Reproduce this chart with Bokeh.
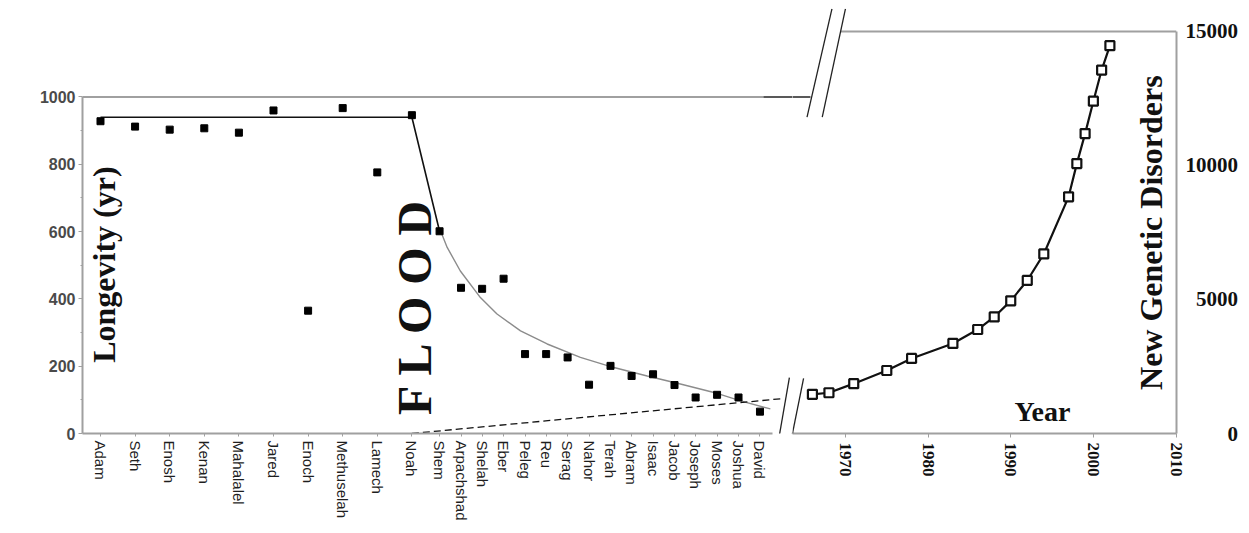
import math
from bokeh.plotting import figure
from bokeh.layouts import row
from bokeh.models import Range1d, FixedTicker, Label, Arrow
from bokeh.embed import file_html
from bokeh.resources import INLINE

# ---------------- data: longevity of patriarchs ----------------
names = ["Adam", "Seth", "Enosh", "Kenan", "Mahalalel", "Jared", "Enoch", "Methuselah",
         "Lamech", "Noah", "Shem", "Arpachshad", "Shelah", "Eber", "Peleg", "Reu", "Serag",
         "Nahor", "Terah", "Abram", "Isaac", "Jacob", "Joseph", "Moses", "Joshua", "David"]
name_pos = [1, 2, 3, 4, 5, 6, 7, 8, 9, 10,
            10.8, 11.42, 12.03, 12.65, 13.27, 13.88, 14.5, 15.12, 15.74, 16.35,
            16.97, 17.59, 18.2, 18.82, 19.44, 20.06]
longevity = [928, 912, 903, 907, 894, 960, 365, 967, 776, 946,
             601, 433, 430, 460, 236, 236, 226, 145, 201, 171,
             176, 144, 107, 115, 107, 65]

# trend lines of the longevity panel
flat_x = [1, 10, 10.8]
flat_y = [940, 940, 601]
decay_x = [10.83, 11.02, 11.40, 11.98, 12.46, 13.14, 13.91, 14.87, 15.84, 16.80,
           17.76, 18.73, 19.50, 20.36]
decay_y = [602, 553, 483, 404, 355, 305, 266, 226, 196, 171, 147, 122, 97, 73]

# ---------------- data: new genetic disorders ----------------
years = [1966, 1968, 1971, 1975, 1978, 1983, 1986, 1988, 1990, 1992, 1994,
         1997, 1998, 1999, 2000, 2001, 2002]
disorders = [1460, 1520, 1860, 2350, 2800, 3360, 3880, 4350, 4950, 5710, 6700,
             8830, 10070, 11190, 12400, 13560, 14470]

left_ticks = [0, 200, 400, 600, 800, 1000]
left_minor = [100, 300, 500, 700, 900]
year_ticks = [1970, 1980, 1990, 2000, 2010]
right_ticks = [0, 5000, 10000, 15000]
right_labels = ["0", "5000", "10000", "15000"]

SERIF = "Liberation Serif"
SANS = "Liberation Sans"
GREY = "#a0a0a0"
INK = "#111111"
FIG_SPACE = "\u2007"   # digit-wide space, used to right-align the right-axis labels

# ---------------- layout geometry ----------------
H = 530
TOP, BOTTOM = 8, 97
LEFT_W, RIGHT_W = 792, 453
POS_A, POS_B = 0.48, 21.0          # name-axis range of the left panel
YEAR_A, YEAR_B = 1963.59, 2010.06  # year range of the right panel
LONG_MAX, DIS_MAX = 1263, 15858    # vertical ranges (same frame height)

left_ppu = (LEFT_W - 82) / (POS_B - POS_A)
right_ppu = (RIGHT_W - 69) / (YEAR_B - YEAR_A)


def to_right(x, y):
    """convert left-panel coordinates to right-panel coordinates"""
    return YEAR_A + (x - POS_B) * left_ppu / right_ppu, y * DIS_MAX / LONG_MAX


def common(p):
    p.outline_line_color = None
    p.xgrid.visible = False
    p.ygrid.visible = False


# ================= left panel =================
pl = figure(width=LEFT_W, height=H, output_backend="svg", toolbar_location=None,
            x_range=Range1d(POS_A, POS_B), y_range=Range1d(0, LONG_MAX),
            min_border_left=82, min_border_right=0, min_border_top=TOP,
            min_border_bottom=BOTTOM, background_fill_color="white",
            border_fill_color="white")
common(pl)

ya = pl.yaxis[0]
ya.ticker = FixedTicker(ticks=left_ticks, minor_ticks=left_minor)
ya.bounds = (0, 1000)
ya.axis_line_color = GREY
ya.axis_line_width = 2
ya.major_tick_line_color = GREY
ya.minor_tick_line_color = GREY
ya.major_tick_out = 4
ya.major_tick_in = 0
ya.minor_tick_out = 2
ya.minor_tick_in = 0
ya.major_label_standoff = 3
ya.major_label_text_font = SANS
ya.major_label_text_font_style = "bold"
ya.major_label_text_font_size = "16px"
ya.major_label_text_color = "#4a4a4a"

xa = pl.xaxis[0]
xa.ticker = FixedTicker(ticks=name_pos, minor_ticks=[])
xa.major_label_overrides = {pos: nm for pos, nm in zip(name_pos, names)}
xa.major_label_orientation = "vertical"
xa.bounds = (POS_A, 20.41)
xa.axis_line_color = GREY
xa.axis_line_width = 2
xa.major_tick_line_color = GREY
xa.major_tick_out = 3
xa.major_tick_in = 0
xa.major_label_text_font = SANS
xa.major_label_text_font_size = "15px"
xa.major_label_text_color = "#1e1e1e"
xa.major_label_standoff = 4

pl.line([POS_A, 20.16], [1000, 1000], line_color=GREY, line_width=2)
pl.line(flat_x, flat_y, line_color=INK, line_width=1.6)
pl.line(decay_x, decay_y, line_color="#8c8c8c", line_width=1.4)
pl.line([10, 20.74], [0, 104], line_color=INK, line_width=1.3, line_dash="7 4")
pl.scatter(name_pos, longevity, marker="square", size=7, fill_color="black",
           line_color="black")

pl.add_layout(Label(x=1.10, y=502, text="Longevity (yr)", angle=math.pi / 2,
                    text_align="center", text_baseline="middle", text_font=SERIF,
                    text_font_style="bold", text_font_size="32px", text_color=INK))
pl.add_layout(Label(x=10.07, y=380, text="F L O O D", angle=math.pi / 2,
                    text_align="center", text_baseline="middle", text_font=SERIF,
                    text_font_style="bold", text_font_size="48px", text_color=INK))

# ================= right panel =================
pr = figure(width=RIGHT_W, height=H, output_backend="svg", toolbar_location=None,
            x_range=Range1d(YEAR_A, YEAR_B), y_range=Range1d(0, DIS_MAX),
            y_axis_location="right",
            min_border_left=0, min_border_right=69, min_border_top=TOP,
            min_border_bottom=BOTTOM, background_fill_color="white",
            border_fill_color="white")
common(pr)

yr = pr.xaxis[0]
yr.ticker = FixedTicker(ticks=year_ticks, minor_ticks=[])
yr.bounds = (YEAR_A, YEAR_B)
yr.major_label_orientation = "vertical"
yr.axis_line_color = GREY
yr.axis_line_width = 2
yr.major_tick_line_color = GREY
yr.major_tick_out = 4
yr.major_tick_in = 0
yr.major_label_text_font = SERIF
yr.major_label_text_font_style = "bold"
yr.major_label_text_font_size = "17px"
yr.major_label_text_color = INK
yr.major_label_standoff = 5

ra = pr.yaxis[0]
ra.ticker = FixedTicker(ticks=right_ticks, minor_ticks=[])
width_max = max(len(s) for s in right_labels)
ra.major_label_overrides = {t: FIG_SPACE * (width_max - len(s)) + s
                            for t, s in zip(right_ticks, right_labels)}
ra.bounds = (0, 15000)
ra.axis_line_color = GREY
ra.axis_line_width = 2
ra.major_tick_out = 0
ra.major_tick_in = 0
ra.major_label_standoff = 9
ra.major_label_text_font = SERIF
ra.major_label_text_font_style = "bold"
ra.major_label_text_font_size = "21px"
ra.major_label_text_color = INK

pr.line([1969.4, YEAR_B], [15000, 15000], line_color=GREY, line_width=2)
pr.line(years, disorders, line_color=INK, line_width=2.2)
pr.scatter(years, disorders, marker="square", size=9, fill_color="white",
           line_color=INK, line_width=2.2)

pr.add_layout(Label(x=2007.03, y=7494, text="New Genetic Disorders", angle=math.pi / 2,
                    text_align="center", text_baseline="middle", text_font=SERIF,
                    text_font_style="bold", text_font_size="32px", text_color=INK))
pr.add_layout(Label(x=1993.84, y=820, text="Year", text_align="center",
                    text_baseline="middle", text_font=SERIF, text_font_style="bold",
                    text_font_size="28px", text_color=INK))

# ============ axis-break decorations spanning both panels (left units) ============
break_marks = [
    (20.16, 1000, 21.52, 1000),   # top-left border continuing to the break
    (20.51, -71, 20.91, 166),     # lower break, first stroke
    (20.86, -71, 21.32, 164),     # lower break, second stroke
    (21.42, 940, 22.14, 1262),    # upper break, first stroke
    (21.86, 940, 22.53, 1262),    # upper break, second stroke
]
for xs, ys, xe, ye in break_marks:
    pl.add_layout(Arrow(x_start=xs, y_start=ys, x_end=xe, y_end=ye, end=None,
                        line_color="#222222", line_width=1.3))
    rxs, rys = to_right(xs, ys)
    rxe, rye = to_right(xe, ye)
    pr.add_layout(Arrow(x_start=rxs, y_start=rys, x_end=rxe, y_end=rye, end=None,
                        line_color="#222222", line_width=1.3))

layout = row(pl, pr, spacing=0)
open("out.html", "w").write(file_html(layout, INLINE))
